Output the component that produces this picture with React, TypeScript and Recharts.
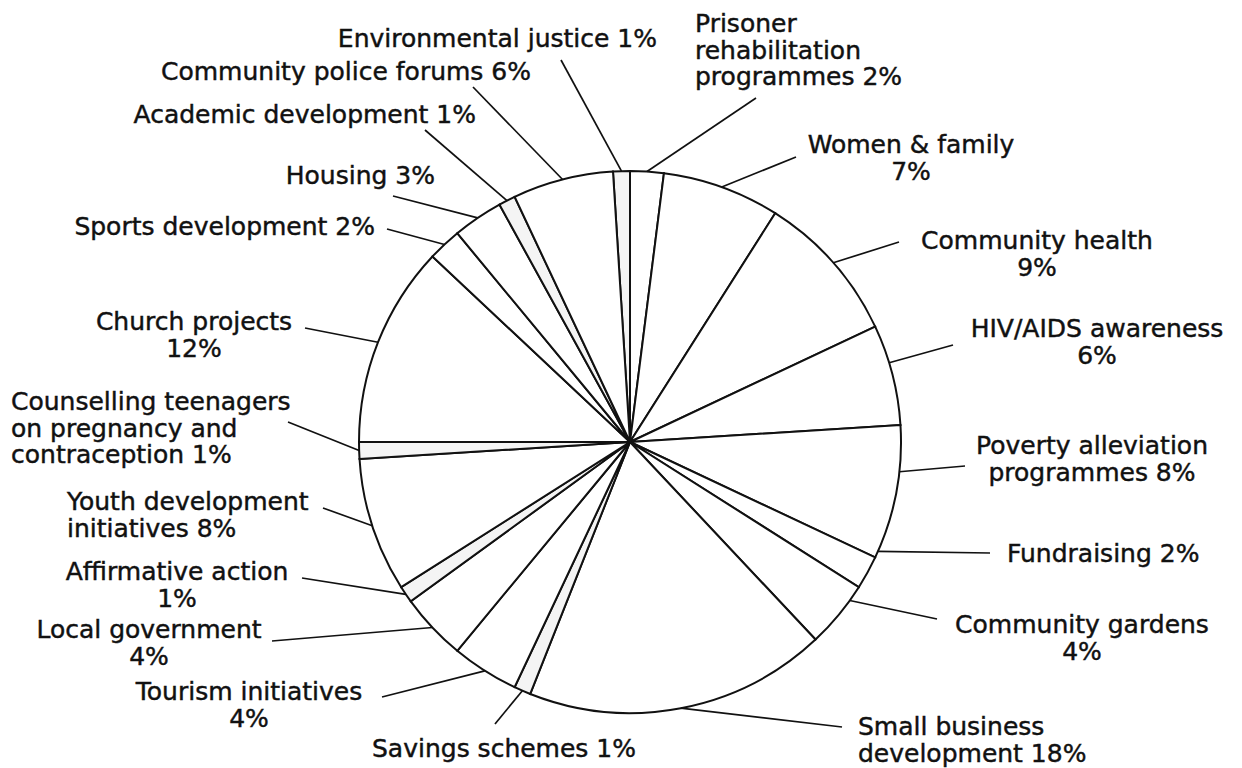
import { Cell, Pie, PieChart } from "recharts";

// Share of projects by area, clockwise from just left of 12 o'clock
const categories = [
  "Environmental justice",
  "Prisoner rehabilitation programmes",
  "Women & family",
  "Community health",
  "HIV/AIDS awareness",
  "Poverty alleviation programmes",
  "Fundraising",
  "Community gardens",
  "Small business development",
  "Savings schemes",
  "Tourism initiatives",
  "Local government",
  "Affirmative action",
  "Youth development initiatives",
  "Counselling teenagers on pregnancy and contraception",
  "Church projects",
  "Sports development",
  "Housing",
  "Academic development",
  "Community police forums",
];

const shares = [1, 2, 7, 9, 6, 8, 2, 4, 18, 1, 4, 4, 1, 8, 1, 12, 2, 3, 1, 6];

// label text, broken into lines as printed
const labelLines: string[][] = [
  ["Environmental justice 1%"],
  ["Prisoner", "rehabilitation", "programmes 2%"],
  ["Women & family", "7%"],
  ["Community health", "9%"],
  ["HIV/AIDS awareness", "6%"],
  ["Poverty alleviation", "programmes 8%"],
  ["Fundraising 2%"],
  ["Community gardens", "4%"],
  ["Small business", "development 18%"],
  ["Savings schemes 1%"],
  ["Tourism initiatives", "4%"],
  ["Local government", "4%"],
  ["Affirmative action", "1%"],
  ["Youth development", "initiatives 8%"],
  ["Counselling teenagers", "on pregnancy and", "contraception 1%"],
  ["Church projects", "12%"],
  ["Sports development 2%"],
  ["Housing 3%"],
  ["Academic development 1%"],
  ["Community police forums 6%"],
];

const data = categories.map((name, i) => ({ name, value: shares[i] }));

// where each label sits, where its leader starts, and a small angle nudge
// for where the leader meets the rim
type Spot = {
  x: number;
  y: number;
  anchor: "start" | "middle" | "end";
  lead: [number, number];
  nudge?: number;
};
const spots: Spot[] = [
  { x: 657, y: 47, anchor: "end", lead: [561, 60] },
  { x: 695, y: 32, anchor: "start", lead: [756, 98] },
  { x: 911, y: 153, anchor: "middle", lead: [796, 157] },
  { x: 1037, y: 249, anchor: "middle", lead: [899, 242] },
  { x: 1097, y: 337, anchor: "middle", lead: [953, 345], nudge: 2.6 },
  { x: 1092, y: 454, anchor: "middle", lead: [965, 466], nudge: 4.5 },
  { x: 1007, y: 562, anchor: "start", lead: [990, 553], nudge: 5 },
  { x: 1082, y: 633, anchor: "middle", lead: [937, 619], nudge: 3.8 },
  { x: 858, y: 735, anchor: "start", lead: [842, 727] },
  { x: 372, y: 757, anchor: "start", lead: [495, 724] },
  { x: 249, y: 700, anchor: "middle", lead: [382, 697] },
  { x: 149, y: 638, anchor: "middle", lead: [272, 641] },
  { x: 177, y: 580, anchor: "middle", lead: [302, 578] },
  { x: 67, y: 510, anchor: "start", lead: [323, 508] },
  { x: 11, y: 410, anchor: "start", lead: [288, 422] },
  { x: 194, y: 330, anchor: "middle", lead: [305, 328] },
  { x: 375, y: 235, anchor: "end", lead: [387, 229] },
  { x: 435, y: 184, anchor: "end", lead: [393, 196] },
  { x: 476, y: 123, anchor: "end", lead: [425, 130] },
  { x: 531, y: 80, anchor: "end", lead: [473, 87] },
];

const RADIAN = Math.PI / 180;
const FONT = "'DejaVu Sans', sans-serif";
const LINE_GAP = 26.5;

// leader line from the label to the slice rim, then the text
function SliceLabel(props: any) {
  const { cx, cy, midAngle, outerRadius, index } = props;
  const spot = spots[index];
  const a = (midAngle + (spot.nudge ?? 0)) * RADIAN;
  const ex = cx + outerRadius * Math.cos(-a);
  const ey = cy + outerRadius * Math.sin(-a);
  return (
    <g>
      <line
        x1={spot.lead[0]}
        y1={spot.lead[1]}
        x2={ex}
        y2={ey}
        stroke="#111"
        strokeWidth={1.7}
      />
      <text
        x={spot.x}
        y={spot.y}
        textAnchor={spot.anchor}
        fontSize={25}
        fontFamily={FONT}
        fill="#111"
        stroke="#111"
        strokeWidth={0.45}
      >
        {labelLines[index].map((line, k) => (
          <tspan key={k} x={spot.x} dy={k === 0 ? 0 : LINE_GAP}>
            {line}
          </tspan>
        ))}
      </text>
    </g>
  );
}

export default function App() {
  return (
    <div style={{ position: "absolute", left: 0, top: 0, background: "#fff" }}>
      <PieChart width={1242} height={768} margin={{ top: 0, right: 0, bottom: 0, left: 0 }}>
        <Pie
          data={data}
          dataKey="value"
          nameKey="name"
          cx={630}
          cy={442}
          innerRadius={0}
          outerRadius={271}
          startAngle={93.6}
          endAngle={93.6 - 360}
          stroke="#111"
          strokeWidth={2}
          label={SliceLabel}
          labelLine={false}
          isAnimationActive={false}
        >
          {data.map((d) => (
            <Cell key={d.name} fill={d.value === 1 ? "#f4f4f4" : "#fff"} />
          ))}
        </Pie>
      </PieChart>
    </div>
  );
}
